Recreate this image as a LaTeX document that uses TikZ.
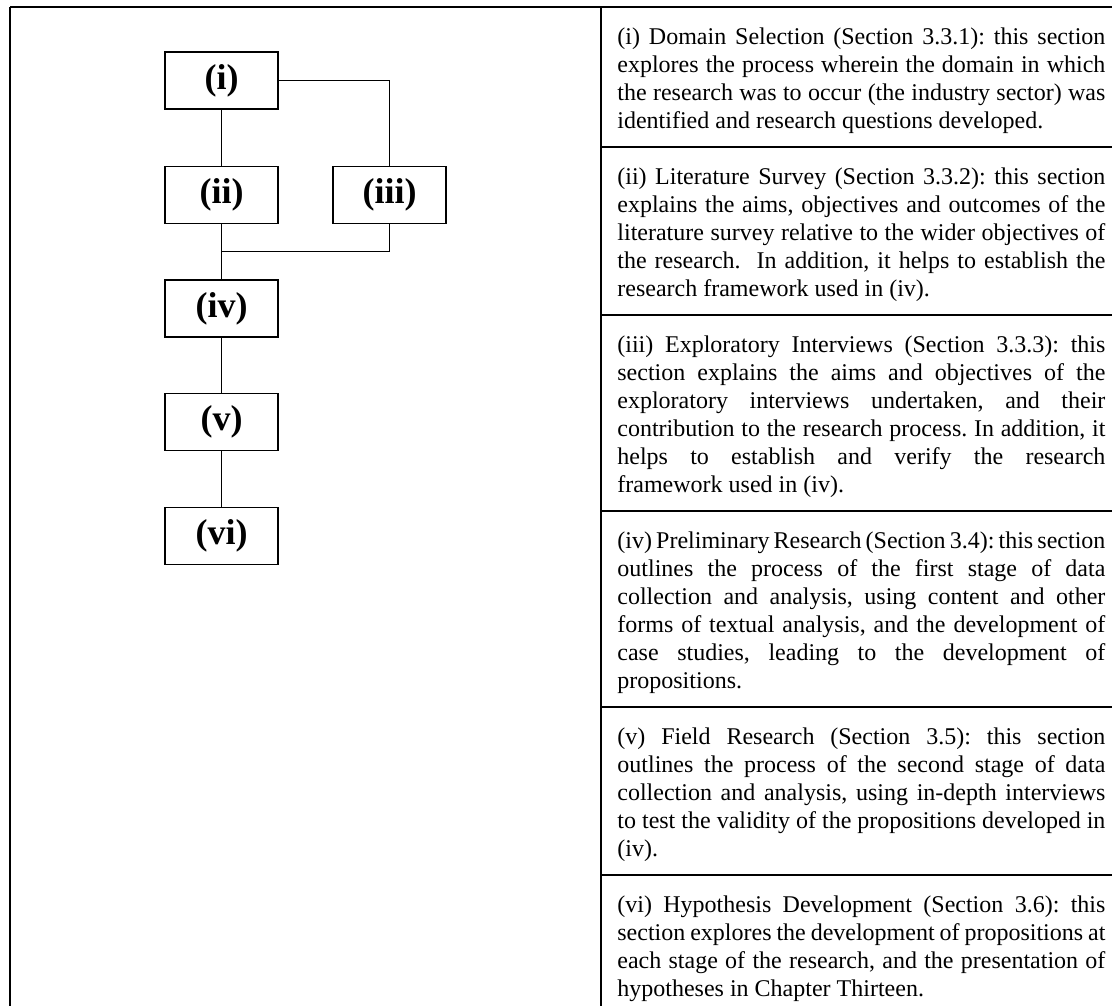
\documentclass[tikz,border=0pt]{standalone}
\usepackage{fontspec}
\setmainfont{Liberation Serif}
\frenchspacing
% one fully justified line, and the closing line of a paragraph
\newcommand{\jline}[1]{\makebox[\linewidth][s]{\strut#1}\\}
\newcommand{\lline}[1]{\strut#1}
\newcommand{\celltext}[1]{\parbox[t]{244pt}{#1}}
\begin{document}
\begin{tikzpicture}[x=0.5pt,y=-0.5pt,
  rule/.style={line width=1pt,black},
  stage/.style={draw,line width=0.6pt,minimum width=56.5pt,minimum height=28.5pt,
    inner sep=0pt,font=\fontsize{18}{20}\selectfont\bfseries},
  link/.style={line width=0.5pt},
  cell/.style={anchor=north west,inner sep=0pt,
    font=\fontsize{12}{14}\selectfont}]
\useasboundingbox (0,0) rectangle (1112,1006);
\fill[white] (0,0) rectangle (1112,1006);

% table frame
\draw[rule] (10,7) -- (1112,7);
\draw[rule,line width=1.2pt] (10,7) -- (10,1006);
\draw[rule] (601,7) -- (601,1006);
\foreach \y in {147,315,511,707,875}
  \draw[rule] (601,\y) -- (1112,\y);

% stage boxes
\node[stage] (s1) at (221.5,80.5) {(i)};
\node[stage] (s2) at (221.5,195) {(ii)};
\node[stage] (s3) at (389.5,195) {(iii)};
\node[stage] (s4) at (221.5,308.5) {(iv)};
\node[stage] (s5) at (221.5,422) {(v)};
\node[stage] (s6) at (221.5,536) {(vi)};
\coordinate (j) at (221.5,251);

% connectors
\draw[link] (s1) -- (s2);
\draw[link] (s1.east) -| (s3.north);
\draw[link] (s2) -- (s4);
\draw[link] (s3.south) |- (j);
\draw[link] (s4) -- (s5);
\draw[link] (s5) -- (s6);

% descriptions
\node[cell] (d1) at (617,24.9) {\celltext{%
\jline{(i) Domain Selection (Section 3.3.1): this section}
\jline{explores the process wherein the domain in which}
\jline{the research was to occur (the industry sector) was}
\lline{identified and research questions developed.}}};
\node[cell] (d2) at (617,164.9) {\celltext{%
\jline{(ii) Literature Survey (Section 3.3.2): this section}
\jline{explains the aims, objectives and outcomes of the}
\jline{literature survey relative to the wider objectives of}
\jline{the research.\ \ In addition, it helps to establish the}
\lline{research framework used in (iv).}}};
\node[cell] (d3) at (617,332.9) {\celltext{%
\jline{(iii) Exploratory Interviews (Section 3.3.3): this}
\jline{section explains the aims and objectives of the}
\jline{exploratory interviews undertaken, and their}
\jline{contribution to the research process. In addition, it}
\jline{helps to establish and verify the research}
\lline{framework used in (iv).}}};
\node[cell] (d4) at (617,528.9) {\celltext{%
\jline{(iv) Preliminary Research (Section 3.4): this section}
\jline{outlines the process of the first stage of data}
\jline{collection and analysis, using content and other}
\jline{forms of textual analysis, and the development of}
\jline{case studies, leading to the development of}
\lline{propositions.}}};
\node[cell] (d5) at (617,724.9) {\celltext{%
\jline{(v) Field Research (Section 3.5): this section}
\jline{outlines the process of the second stage of data}
\jline{collection and analysis, using in-depth interviews}
\jline{to test the validity of the propositions developed in}
\lline{(iv).}}};
\node[cell] (d6) at (617,892.9) {\celltext{%
\jline{(vi) Hypothesis Development (Section 3.6): this}
\jline{section explores the development of propositions at}
\jline{each stage of the research, and the presentation of}
\lline{hypotheses in Chapter Thirteen.}}};
\end{tikzpicture}
\end{document}
